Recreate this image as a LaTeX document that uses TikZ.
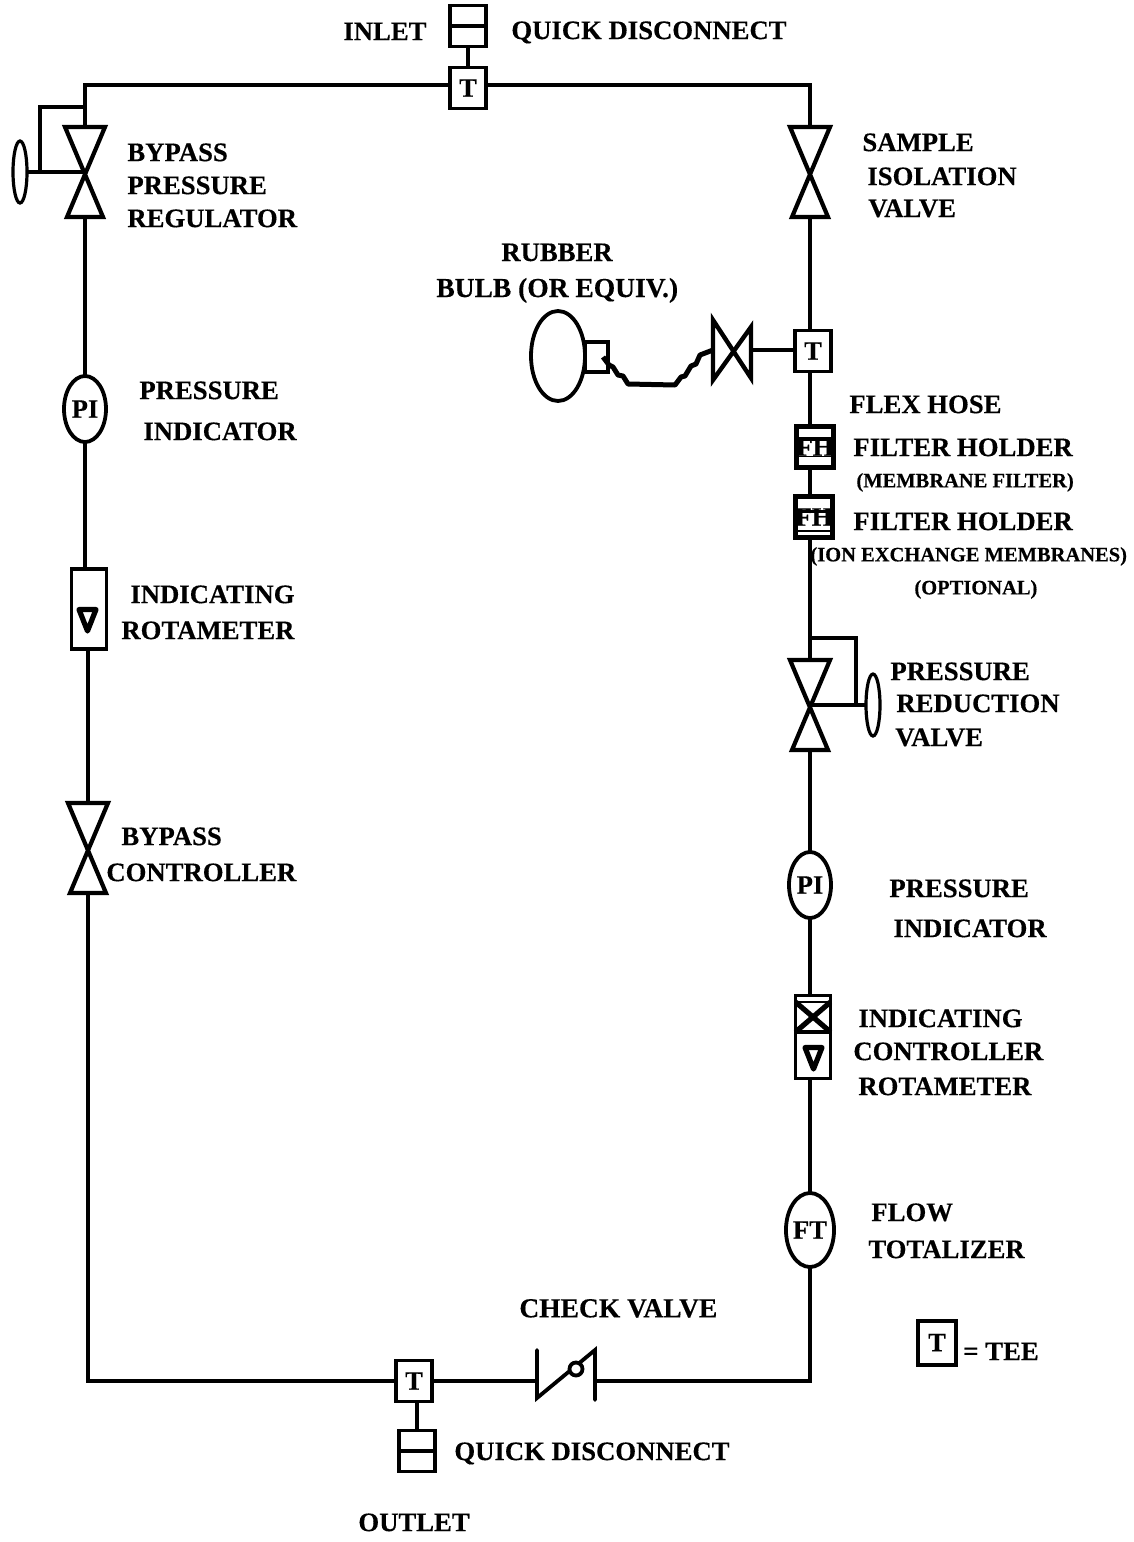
\documentclass[tikz,border=0pt]{standalone}
\usepackage{fontspec}
\setmainfont{Liberation Serif}[BoldFeatures={FakeBold=0.35}]
\usetikzlibrary{shapes.geometric}
\tikzset{
  pipe/.style={line width=1.9pt,line join=miter},
  lbl/.style={anchor=west,inner sep=0pt,yshift=-0.2pt,font=\fontsize{13.35}{15}\selectfont\bfseries},
  lblwide/.style={lbl,font=\fontsize{13.75}{15}\selectfont\bfseries},
  lblsmall/.style={anchor=west,inner sep=0pt,yshift=-0.2pt,font=\fontsize{10.25}{12}\selectfont\bfseries},
  teebox/.style={draw,line width=1.9pt,minimum width=18pt,minimum height=20.5pt,inner sep=0pt,outer sep=0pt,fill=white,font=\fontsize{13.3}{15}\selectfont\bfseries},
  fhbox/.style={draw,line width=2.2pt,minimum width=17.5pt,minimum height=20.5pt,inner sep=0pt,outer sep=0pt,font=\fontsize{13.3}{15}\selectfont\bfseries},
  qdbox/.style={draw,line width=1.9pt,minimum width=18pt,minimum height=20.5pt,inner sep=0pt,outer sep=0pt,fill=white},
  gauge/.style={draw,ellipse,line width=1.9pt,minimum width=21pt,minimum height=33pt,inner sep=0pt,outer sep=0pt,fill=white,font=\fontsize{13.3}{15}\selectfont\bfseries},
  rotabox/.style={draw,line width=1.9pt,minimum width=17.5pt,inner sep=0pt,outer sep=0pt},
  handle/.style={draw,ellipse,line width=1.6pt,minimum width=7pt,minimum height=31pt,inner sep=0pt,outer sep=0pt},
  valve/.pic={
    \draw[pipe,line width=2.1pt] (-20,-45) -- (20,-45) -- (-18,45) -- (18,45) -- cycle;
    \coordinate (-t) at (0,-45);
    \coordinate (-b) at (0,45);
    \coordinate (-c) at (0,0);
  },
  triang/.pic={
    \draw[line width=2.6pt,line join=round] (-8.5,-10.5) -- (8.5,-10.5) -- (0,11) -- cycle;
  }
}
\begin{document}
\begin{tikzpicture}[x=0.5pt,y=-0.5pt]
\useasboundingbox[fill=white] (0,0) rectangle (1134,1542);

% --- inlet
\node[qdbox] (qdin) at (468,26) {};
\draw[pipe] (qdin.west) -- (qdin.east);
\node[teebox] (tin) at (468,88) {T};
\draw[pipe] (qdin.south) -- (tin.north);

% --- left leg
\coordinate (tl) at (85,85);
\coordinate (tr) at (810,85);
\pic (vreg) at (85,172) {valve};
\node[gauge] (pil) at (85,409) {PI};
\node[rotabox,minimum height=40pt] (rotl) at (89,609) {};
\pic at (87.5,620) {triang};
\pic (vctl) at (88,848) {valve};
\coordinate (bl) at (88,1381);
\node[teebox] (tout) at (414,1381) {T};
\node[qdbox] (qdout) at (417,1451) {};
\draw[pipe] (qdout.west) -- (qdout.east);

\draw[pipe] (tin.west |- tl) -- (tl) -- (vreg-t);
\draw[pipe] (vreg-b) -- (pil.north);
\draw[pipe] (pil.south) -- (pil.south |- rotl.north);
\draw[pipe] (vctl-t |- rotl.south) -- (vctl-t);
\draw[pipe] (vctl-b) -- (bl) -- (tout.west);
\draw[pipe] (qdout.north |- tout.south) -- (qdout.north);

% regulator loop and handle
\coordinate (loopa) at (85,107);
\coordinate (loopb) at (40,107);
\coordinate (loopc) at (40,172);
\node[handle] (hreg) at (20,172) {};
\draw[pipe] (loopa) -- (loopb) -- (loopc);
\draw[pipe] (hreg.east) -- (vreg-c);

% --- right leg
\pic (viso) at (810,172) {valve};
\node[teebox] (tbulb) at (813,351) {T};
\fill (796,437) rectangle (834,457);
\fill[white] (799,441) rectangle (832,456);
\fill (795,510) rectangle (833,532);
\fill[white] (798,513) rectangle (831,530);
\node[fhbox] (fh1) at (815,447) {\raisebox{-0.5pt}{FH}};
\node[fhbox] (fh2) at (814,517) {\raisebox{-2pt}{FH}};
\pic (vred) at (810,705) {valve};
\node[gauge] (pir) at (810,885) {PI};
\node[rotabox,minimum height=41.5pt] (rotr) at (813,1037) {};
\node[gauge,minimum height=37pt] (ft) at (810,1230) {FT};
\coordinate (br) at (810,1381);

\draw[pipe] (tin.east |- tr) -- (tr) -- (viso-t);
\draw[pipe] (viso-b) -- (viso-b |- tbulb.north);
\draw[pipe] (viso-b |- tbulb.south) -- (viso-b |- fh1.north);
\draw[pipe] (viso-b |- fh1.south) -- (viso-b |- fh2.north);
\draw[pipe] (viso-b |- fh2.south) -- (vred-t);
\draw[pipe] (vred-b) -- (pir.north);
\draw[pipe] (pir.south) -- (pir.south |- rotr.north);
\draw[pipe] (pir.south |- rotr.south) -- (ft.north);

% rotameter with controller
\draw[pipe] (rotr.west |- 0,1032) -- (rotr.east |- 0,1032);
\draw[line width=1.2pt] (rotr.west |- 0,1002) -- (rotr.east |- 0,1002);
\draw[line width=2.6pt] (rotr.west |- 0,1002) -- (rotr.east |- 0,1032);
\draw[line width=2.6pt] (rotr.east |- 0,1002) -- (rotr.west |- 0,1032);
\pic at (813.5,1058) {triang};

% pressure reduction loop and handle
\coordinate (rloopa) at (810,638);
\coordinate (rloopb) at (856,638);
\coordinate (rloopc) at (856,705);
\node[handle] (hred) at (873,705) {};
\draw[pipe] (rloopa) -- (rloopb) -- (rloopc);
\draw[pipe] (vred-c) -- (hred.west);

% --- bulb branch
\coordinate (vsl) at (713,350);
\coordinate (vsr) at (751,350);
\draw[pipe,line width=2.2pt] (713,320) -- (751,378) -- (751,327) -- (713,380) -- cycle;
\draw[pipe] (tbulb.west |- vsr) -- (vsr);
\node[draw,ellipse,line width=1.9pt,minimum width=27pt,minimum height=45pt,inner sep=0pt,outer sep=0pt] (bulb) at (558,356) {};
\node[draw,line width=1.9pt,minimum width=11.5pt,minimum height=15pt,inner sep=0pt,outer sep=0pt,anchor=west] (bulbneck) at (bulb.east |- 0,357) {};
\coordinate (hs) at (603,357);
\draw[line width=2.5pt,line join=round] (hs) -- (609,365) -- (613,367) -- (618,375) -- (623,376) -- (628,384) -- (675,385) -- (681,377) -- (685,376) -- (691,366) -- (696,364) -- (700,355) -- (vsl);

% --- bottom
\coordinate (cvl) at (537,1381);
\coordinate (cvr) at (597,1381);
\draw[pipe] (tout.east) -- (cvl);
\draw[pipe,line cap=round] (537,1350) -- (537,1398) -- (595,1350) -- (595,1400);
\node[draw,circle,line width=1.9pt,minimum size=6.5pt,inner sep=0pt,fill=white] (cvdisk) at (576,1369) {};
\draw[pipe] (cvr) -- (br) -- (ft.south);

% --- legend
\node[draw,line width=2pt,minimum width=19pt,minimum height=22pt,inner sep=0pt,outer sep=0pt,font=\fontsize{13.3}{15}\selectfont\bfseries] (tkey) at (937,1342.5) {\raisebox{-1.5pt}{T}};

% --- labels
\node[lbl] (l1) at (343,31) {INLET};
\node[lbl] (l2) at (511,32) {QUICK DISCONNECT};
\node[lbl] (l3) at (127,152) {BYPASS};
\node[lbl] (l4) at (127,185) {PRESSURE};
\node[lbl] (l5) at (127,218) {REGULATOR};
\node[lbl] (l6) at (862,142) {SAMPLE};
\node[lbl] (l7) at (867,176) {ISOLATION};
\node[lbl] (l8) at (868,208) {VALVE};
\node[lbl] (l9) at (501,252) {RUBBER};
\node[lblwide] (l10) at (436,290) {BULB (OR EQUIV.)};
\node[lbl] (l11) at (849,404) {FLEX HOSE};
\node[lbl] (l12) at (853,447) {FILTER HOLDER};
\node[lblsmall] (l13) at (856,482) {(MEMBRANE FILTER)};
\node[lbl] (l14) at (853,521) {FILTER HOLDER};
\node[lblsmall] (l15) at (810,556) {(ION EXCHANGE MEMBRANES)};
\node[lblsmall] (l16) at (914,589) {(OPTIONAL)};
\node[lbl] (l17) at (890,671) {PRESSURE};
\node[lbl] (l18) at (896,703) {REDUCTION};
\node[lbl] (l19) at (895,737) {VALVE};
\node[lbl] (l20) at (889,888) {PRESSURE};
\node[lbl] (l21) at (893,928) {INDICATOR};
\node[lbl] (l22) at (858,1018) {INDICATING};
\node[lbl] (l23) at (853,1051) {CONTROLLER};
\node[lbl] (l24) at (858,1086) {ROTAMETER};
\node[lbl] (l25) at (871,1212) {FLOW};
\node[lbl] (l26) at (868,1249) {TOTALIZER};
\node[lblwide] (l27) at (519,1308) {CHECK VALVE};
\node[lbl] (l28) at (963,1351) {= TEE};
\node[lbl] (l29) at (454,1453) {QUICK DISCONNECT};
\node[lbl] (l30) at (358,1522) {OUTLET};
\node[lbl] (l31) at (139,390) {PRESSURE};
\node[lbl] (l32) at (143,431) {INDICATOR};
\node[lbl] (l33) at (130,594) {INDICATING};
\node[lbl] (l34) at (121,630) {ROTAMETER};
\node[lbl] (l35) at (121,836) {BYPASS};
\node[lbl] (l36) at (106,872) {CONTROLLER};
\end{tikzpicture}
\end{document}
